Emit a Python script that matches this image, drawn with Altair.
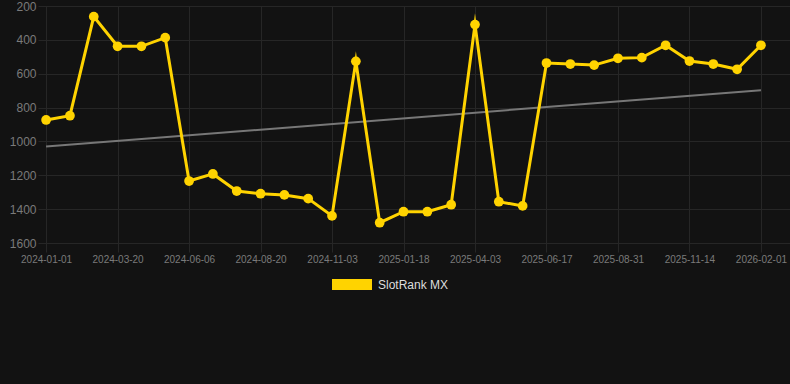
import altair as alt
import pandas as pd

tick_labels = ["2024-01-01", "2024-03-20", "2024-06-06", "2024-08-20", "2024-11-03",
               "2025-01-18", "2025-04-03", "2025-06-17", "2025-08-31", "2025-11-14", "2026-02-01"]
rank_values = [873, 848, 263, 438, 438, 387, 1234, 1192, 1293, 1309, 1316, 1338, 1440, 527,
               1480, 1415, 1415, 1374, 310, 1356, 1381, 537, 543, 549, 509, 505, 432, 525,
               543, 574, 432]
series_name = "SlotRank MX"

df = pd.DataFrame({
    "idx": list(range(len(rank_values))),
    "rank": rank_values,
    "series": [series_name] * len(rank_values),
})

label_expr = "[" + ",".join("'%s'" % t for t in tick_labels) + "][round(datum.value / 3)]"

YELLOW = "#FFD300"
GRID = "#262626"

x_enc = alt.X("idx:Q",
              scale=alt.Scale(domain=[-0.34, 31.22], nice=False, zero=False),
              axis=alt.Axis(values=list(range(0, 31, 3)), labelExpr=label_expr, title=None,
                            grid=True, gridColor=GRID, domain=False, ticks=True,
                            tickColor=GRID, tickSize=9, labelPadding=2,
                            labelColor="#7a7a7a", labelFontSize=10, labelFont="Liberation Sans"))
y_enc = alt.Y("rank:Q",
              scale=alt.Scale(domain=[200, 1600], reverse=True, nice=False, zero=False),
              axis=alt.Axis(values=list(range(200, 1601, 200)), format="d", title=None, grid=True,
                            gridColor=GRID, domain=False, ticks=False, labelPadding=2,
                            labelColor="#7a7a7a", labelFontSize=12, labelFont="Liberation Sans"))

base = alt.Chart(df)

trend = base.transform_regression("idx", "rank").mark_line(
    color="#777777", strokeWidth=2
).encode(x=x_enc, y=y_enc)

line = base.mark_line(strokeWidth=3, strokeJoin="miter", strokeMiterLimit=10).encode(
    x=x_enc, y=y_enc,
    color=alt.Color("series:N", scale=alt.Scale(range=[YELLOW]),
                    legend=alt.Legend(title=None, orient="none", direction="horizontal",
                                      legendX=294, legendY=258.5,
                                      symbolType="M-1,-0.275H1V0.275H-1Z", symbolSize=1600,
                                      symbolStrokeWidth=0, symbolFillColor=YELLOW,
                                      labelOffset=6,
                                      labelColor="#dddddd", labelFontSize=12,
                                      labelFont="Liberation Sans"))
)

points = base.mark_circle(size=95, opacity=1, color=YELLOW).encode(x=x_enc, y=y_enc)

chart = alt.layer(trend, line, points).properties(
    width=752, height=237,
    background="#121212",
    autosize=alt.AutoSizeParams(type="none"),
    padding={"left": 38, "top": 6, "right": 0, "bottom": 141},
).configure_view(stroke=None)

chart.save("out.html", embed_options={"renderer": "svg", "actions": False})
